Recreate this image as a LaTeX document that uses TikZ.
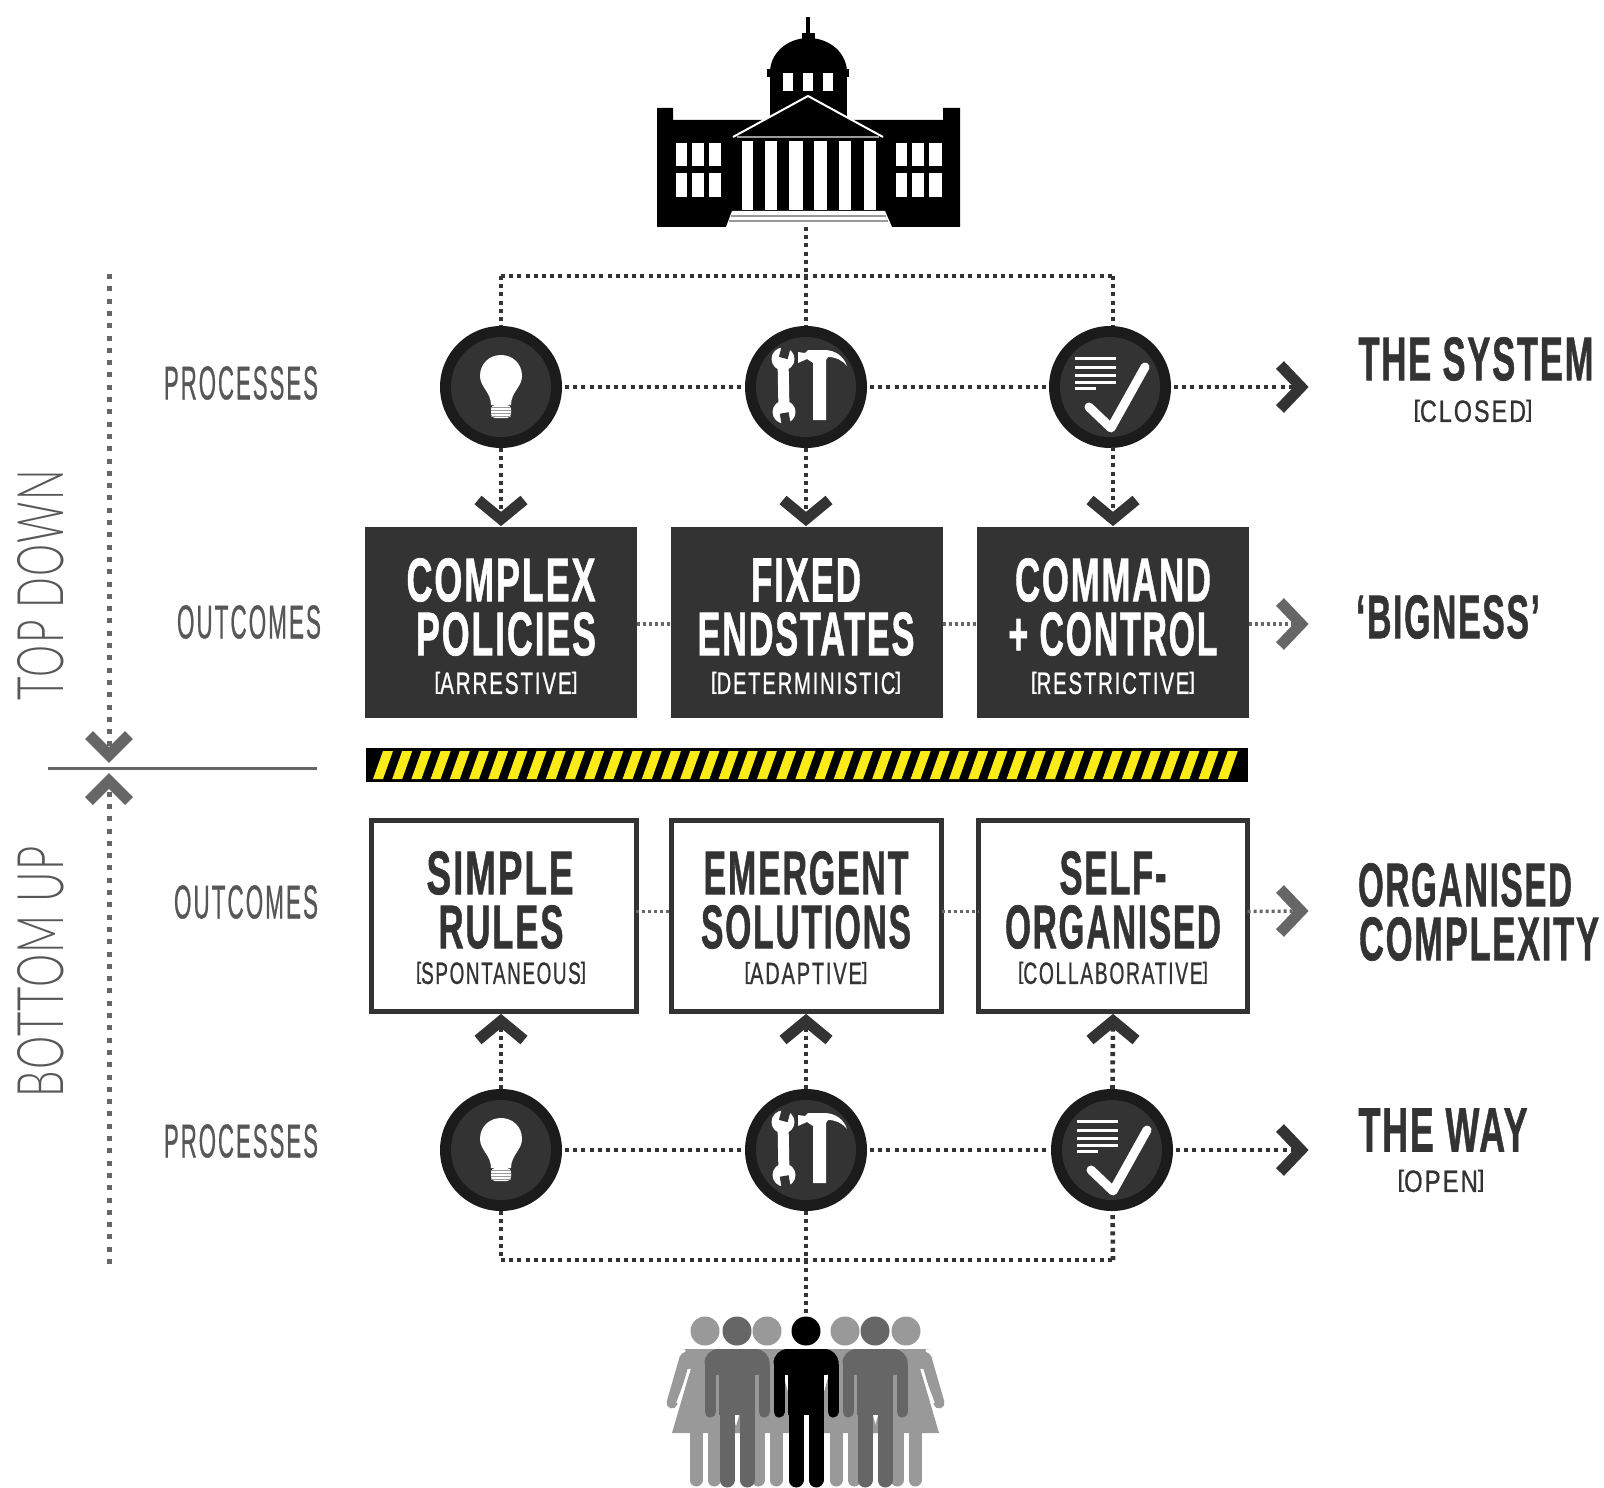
\documentclass[tikz,border=0pt]{standalone}
\usepackage{fontspec}
\usepackage{graphicx}
\setmainfont{Liberation Sans}
\newfontfamily\thinf[LetterSpace=3]{Lato Light}
\newfontfamily\heavyf[LetterSpace=5,FakeBold=1.2]{Liberation Sans Bold}
\newfontfamily\medf[LetterSpace=9,FakeBold=1]{Liberation Sans}
\definecolor{ink}{HTML}{333333}
\definecolor{rim}{HTML}{1B1B1B}
\definecolor{midg}{HTML}{666666}
\definecolor{ligg}{HTML}{999999}
\definecolor{haz}{HTML}{FBEC18}
\newcommand\fitb[3]{\resizebox{\dimexpr #1pt/2\relax}{\dimexpr #2pt/2\relax}{\heavyf #3}}
\newcommand\fitr[3]{\resizebox{\dimexpr #1pt/2\relax}{\dimexpr #2pt/2\relax}{\medf #3}}
\newcommand\fitt[3]{\resizebox{\dimexpr #1pt/2\relax}{\dimexpr #2pt/2\relax}{\thinf #3}}
\newcommand\lbk{\raisebox{0.16em}{\scalebox{1}[0.766]{[}}}
\newcommand\rbk{\raisebox{0.16em}{\scalebox{1}[0.766]{]}}}
% chevron: x, y of centre-line tip, angle, colour, half width, depth, stroke (pt)
\newcommand\chevron[7]{\draw[#4,line width=#7,line join=miter,miter limit=10] (#1,#2) ++(0,0) [shift={(#1,#2)},rotate=#3] (-#5,-#6) -- (0,0) -- (#5,-#6);}
\newcommand\discicon[2]{\node[disc] (#1) at #2 {}; \fill[ink] #2 circle (50);}
\newcommand\bulbicon[1]{\begin{scope}[shift={#1}]
 \fill[white] (-10,18) .. controls (-10,5) and (-21,0) .. (-21,-11) .. controls (-21,-24) and (-11,-32) .. (0,-32) .. controls (11,-32) and (21,-24) .. (21,-11) .. controls (21,0) and (10,5) .. (10,18) -- cycle;
 \fill[white,rounded corners=2] (-10,18) rectangle (10,31);
 \foreach \q in {20,23,26,29}{\draw[ligg,line width=0.5pt] (-10,\q) -- (10,\q);}
\end{scope}}
\newcommand\toolsicon[1]{\begin{scope}[shift={#1}]
 \draw[white,line width=5.5pt] (-23,-28) -- (-22,25);
 \fill[white] (-23,-28) circle (11.5);
 \fill[white] (-22,25) circle (11.5);
 \fill[ink,rotate around={-15:(-23,-28)}] (-27.5,-44) rectangle (-18.5,-29);
 \fill[ink,rotate around={10:(-22,25)}] (-26.5,26) rectangle (-17.5,41);
 \fill[white] (-8,-35) -- (-1,-34) -- (2,-37) -- (18,-37) .. controls (30,-37) and (38,-30) .. (41,-21) .. controls (36,-27) and (30,-30) .. (22,-30) -- (20,-27) -- (20,33) -- (7,33) -- (7,-24) -- (1,-28) -- (-8,-24) -- cycle;
\end{scope}}
\newcommand\checkicon[1]{\begin{scope}[shift={#1}]
 \foreach \q in {-29,-20,-12,-5}{\fill[white] (-35,\q-1.5) rectangle (6,\q+1.5);}
 \fill[white] (-35,-0.5) rectangle (-14,2.5);
 \draw[white,line width=4.5pt,line cap=round,line join=round] (-21,20) -- (1,41) -- (35,-20);
\end{scope}}
\newcommand\manfig[2]{\begin{scope}[shift={(#1,0)}]
 \fill[#2] (0,1331) circle (14.5);
 \fill[#2,rounded corners=7pt] (-32.5,1375) -- (-32.5,1349) -- (32.5,1349) -- (32.5,1375) -- cycle;
 \fill[#2] (-18,1360) rectangle (18,1415);
 \draw[#2,line width=5.5pt,line cap=round] (-27,1365) -- (-27,1412);
 \draw[#2,line width=5.5pt,line cap=round] (27,1365) -- (27,1412);
 \draw[#2,line width=7.5pt,line cap=round] (-10,1410) -- (-10,1480);
 \draw[#2,line width=7.5pt,line cap=round] (10,1410) -- (10,1480);
\end{scope}}
\newcommand\womanfig[2]{\begin{scope}[shift={(#1,0)}]
 \fill[ligg] (0,1331) circle (14.5);
 \draw[ligg,line width=5.5pt,line cap=round] (#2*20,1358) -- (#2*33,1403);
 \fill[ligg] (#2*26,1349) -- (-20,1349) -- (-14,1368) -- (-33,1433) -- (33,1433) -- (14,1368) -- (20,1349) -- cycle;
 \fill[ligg,rounded corners=7pt] (-26,1370) -- (-26,1349) -- (26,1349) -- (26,1370) -- cycle;
 \draw[white,line width=0.8pt] (#2*15,1369) -- (#2*28,1403);
 \draw[ligg,line width=6.5pt,line cap=round] (-9,1430) -- (-9,1480);
 \draw[ligg,line width=6.5pt,line cap=round] (9,1430) -- (9,1480);
\end{scope}}
\tikzset{
 txt/.style={inner sep=0pt,outer sep=0pt,anchor=center},
 ontop/.style={txt,text=white},
 dark/.style={txt,text=ink},
 greyt/.style={txt,text=midg!85!black},
 disc/.style={circle,fill=rim,minimum size=61pt,inner sep=0pt,outer sep=0pt},
 darkbox/.style={rectangle,fill=ink,minimum width=136pt,minimum height=95.5pt,inner sep=0pt,outer sep=0pt},
 whitebox/.style={rectangle,draw=ink,line width=2.5pt,fill=white,minimum height=95.5pt,inner sep=0pt,outer sep=0pt},
 dots/.style={draw=ink,line width=2.3pt,dash pattern=on 2pt off 2.1pt},
 sdots/.style={draw=midg,line width=1.7pt,dash pattern=on 1.5pt off 1.5pt},
 sidedots/.style={draw=midg,line width=2.5pt,dash pattern=on 2.5pt off 3.65pt},
}
\begin{document}
\begin{tikzpicture}[x=0.5pt,y=-0.5pt]
\useasboundingbox (0,0) rectangle (1604,1487);
\clip (0,0) rectangle (1604,1487);
% ---- building
\begin{scope}
 \fill[black] (806,17) rectangle (810,40);
 \fill[black] (802,33) rectangle (815,45);
 \fill[black] (770,70) .. controls (772,50) and (790,38) .. (808.5,38) .. controls (827,38) and (845,50) .. (847,70) -- cycle;
 \fill[black] (767,69) rectangle (849,77);
 \fill[black] (770,75) rectangle (847,125);
 \fill[black] (657,108) -- (673,108) -- (673,120) -- (943,120) -- (943,108) -- (960,108) -- (960,227) -- (657,227) -- cycle;
 \foreach \a/\b in {676/687,692/704,709/721,896/907,912/924,929/942}{
  \fill[white] (\a,143) rectangle (\b,166);
  \fill[white] (\a,173) rectangle (\b,197);}
 \foreach \a/\b in {783/793,803/813,823/833}{\fill[white] (\a,73) rectangle (\b,91);}
 \fill[black] (733,137) -- (808,96) -- (883,137) -- cycle;
 \draw[white,line width=1pt,line join=miter] (733,137) -- (808,96) -- (883,137);
 \draw[ligg,line width=1.2pt] (737,137) -- (879,137);
 \foreach \a/\b in {742/753,765/777,789/803,814/827,839/851,864/876}{\fill[white] (\a,141) rectangle (\b,210);}
 \fill[white] (732,211) -- (885,211) -- (892,227) -- (726,227) -- cycle;
 \draw[ligg,line width=1pt] (731,216) -- (886,216);
 \draw[ligg,line width=1pt] (729,221) -- (888,221);
\end{scope}
\coordinate (bld) at (806,227);
\coordinate (topL) at (501,276);
\coordinate (topM) at (806,276);
\coordinate (topR) at (1113,276);
\coordinate (lowL) at (501,1260);
\coordinate (lowM) at (806,1260);
\coordinate (lowR) at (1113,1260);
\coordinate (crowd) at (806,1318);
% ---- upper circles
\discicon{c1}{(501,387)}
\discicon{c2}{(806,387)}
\discicon{c3}{(1110,387)}
\bulbicon{(501,387)}
\toolsicon{(806,387)}
\checkicon{(1110,387)}
% ---- lower circles
\discicon{d1}{(501,1150)}
\discicon{d2}{(806,1150)}
\discicon{d3}{(1112,1150)}
\bulbicon{(501,1150)}
\toolsicon{(806,1150)}
\checkicon{(1112,1150)}
% ---- boxes
\node[darkbox] (b1) at (500.5,622) {};
\node[darkbox] (b2) at (806.5,622) {};
\node[darkbox] (b3) at (1112.5,622) {};
\node[whitebox,minimum width=132.5pt] (w1) at (503.5,915.5) {};
\node[whitebox,minimum width=135pt] (w2) at (806.5,915.5) {};
\node[whitebox,minimum width=134.5pt] (w3) at (1113,915.5) {};
% ---- coordinates at chevrons
\coordinate (a1) at (501,519);
\coordinate (a2) at (806,519);
\coordinate (a3) at (1113,519);
\coordinate (u1) at (501,1022);
\coordinate (u2) at (806,1022);
\coordinate (u3) at (1113,1022);
\coordinate (rt1) at (1301,387);
\coordinate (rt2) at (1301,624);
\coordinate (rt3) at (1301,911);
\coordinate (rt4) at (1301,1150);
\coordinate (sd1) at (109,274);
\coordinate (sd2) at (109,752);
\coordinate (su1) at (109,1264);
\coordinate (su2) at (109,786);
\coordinate (ruleL) at (48,768);
\coordinate (ruleR) at (317,768);
% ---- dotted connectors
\draw[dots] (bld) -- (c2);
\draw[dots] (topL) -- (topR);
\draw[dots] (topL) -- (c1);
\draw[dots] (topR) -- (topR |- c3.north);
\draw[dots,shorten <=1.5pt,shorten >=1pt] (c1) -- (c2);
\draw[dots,shorten <=1.5pt,shorten >=1pt] (c2) -- (c3);
\draw[dots,shorten <=1.5pt] (c3) -- (rt1);
\draw[dots] (c1) -- (a1);
\draw[dots] (c2) -- (a2);
\draw[dots] (1113,447) -- (a3);
\draw[dots,shorten <=1.5pt,shorten >=1pt] (d1) -- (d2);
\draw[dots,shorten <=1.5pt,shorten >=1pt] (d2) -- (d3);
\draw[dots,shorten <=1.5pt] (d3) -- (rt4);
\draw[dots] (d1) -- (u1);
\draw[dots] (d2) -- (u2);
\draw[dots] (d3) -- (u3);
\draw[dots] (d1) -- (lowL);
\draw[dots] (lowL) -- (lowR);
\draw[dots] (lowR) -- (d3);
\draw[dots] (d2) -- (crowd);
\draw[sdots] ([yshift=-1pt]b1.east) -- ([yshift=-1pt]b2.west);
\draw[sdots] ([yshift=-1pt]b2.east) -- ([yshift=-1pt]b3.west);
\draw[sdots] ([yshift=-1pt]b3.east) -- (rt2);
\draw[sdots] ([yshift=2pt]w1.east) -- ([yshift=2pt]w2.west);
\draw[sdots] ([yshift=2pt]w2.east) -- ([yshift=2pt]w3.west);
\draw[sdots] ([yshift=2pt]w3.east) -- (rt3);
\draw[sidedots] (sd1) -- (sd2);
\draw[sidedots] (su1) -- (su2);
\draw[draw=midg,line width=1.5pt] (ruleL) -- (ruleR);
% ---- chevrons
\chevron{501}{519}{0}{ink}{23}{19}{5.5pt}
\chevron{806}{519}{0}{ink}{23}{19}{5.5pt}
\chevron{1113}{519}{0}{ink}{23}{19}{5.5pt}
\chevron{501}{1021}{180}{ink}{23}{19}{5.5pt}
\chevron{806}{1021}{180}{ink}{23}{19}{5.5pt}
\chevron{1113}{1021}{180}{ink}{23}{19}{5.5pt}
\chevron{1301}{387}{90}{ink}{22}{21}{5.5pt}
\chevron{1301}{624}{90}{midg}{22}{21}{5.5pt}
\chevron{1301}{911}{90}{midg}{22}{21}{5.5pt}
\chevron{1301}{1150}{90}{ink}{22}{21}{5.5pt}
\chevron{109}{755}{0}{midg}{20}{20}{5.5pt}
\chevron{109}{781}{180}{midg}{20}{20}{5.5pt}
% ---- hazard bar
\fill[black] (366,748) rectangle (1248,782);
\foreach \i in {0,...,44}{
 \pgfmathsetmacro{\xx}{373+19.2*\i}
 \fill[haz] (\xx,779) -- (\xx+10,779) -- (\xx+20,751) -- (\xx+10,751) -- cycle;
}
% ---- crowd
\womanfig{705}{-1}
\womanfig{906}{1}
\womanfig{767}{-1}
\womanfig{845}{1}
\manfig{737}{midg}
\manfig{875}{midg}
\manfig{806}{black}
% ---- left labels
\node[greyt,rotate=90] (ltd) at (41,585) {\fitt{230}{46}{TOP DOWN}};
\node[greyt,rotate=90] (lbu) at (41,972) {\fitt{251}{46}{BOTTOM UP}};
\node[greyt] (lp1) at (241,383) {\fitr{154}{33}{PROCESSES}};
\node[greyt] (lo1) at (249,622) {\fitr{144}{33}{OUTCOMES}};
\node[greyt] (lo2) at (246,902) {\fitr{144}{33}{OUTCOMES}};
\node[greyt] (lp2) at (241,1141) {\fitr{154}{33}{PROCESSES}};
% ---- dark box texts
\node[ontop] (t1a) at (501,580) {\fitb{189}{43}{COMPLEX}};
\node[ontop] (t1b) at (506,634) {\fitb{180}{43}{POLICIES}};
\node[ontop] (t1c) at (506,683) {\fitr{143}{22}{\lbk ARRESTIVE\rbk}};
\node[ontop] (t2a) at (806,580) {\fitb{110}{43}{FIXED}};
\node[ontop] (t2b) at (806,634) {\fitb{217}{43}{ENDSTATES}};
\node[ontop] (t2c) at (806,683) {\fitr{190}{22}{\lbk DETERMINISTIC\rbk}};
\node[ontop] (t3a) at (1113,580) {\fitb{196}{43}{COMMAND}};
\node[ontop] (t3b) at (1113,634) {\fitb{209}{43}{+ CONTROL}};
\node[ontop] (t3c) at (1113,683) {\fitr{164}{22}{\lbk RESTRICTIVE\rbk}};
% ---- white box texts
\node[dark] (s1a) at (500,873) {\fitb{147}{43}{SIMPLE}};
\node[dark] (s1b) at (501,927) {\fitb{125}{43}{RULES}};
\node[dark] (s1c) at (501,973) {\fitr{170}{22}{\lbk SPONTANEOUS\rbk}};
\node[dark] (s2a) at (806,873) {\fitb{205}{43}{EMERGENT}};
\node[dark] (s2b) at (806,927) {\fitb{210}{43}{SOLUTIONS}};
\node[dark] (s2c) at (806,973) {\fitr{123}{22}{\lbk ADAPTIVE\rbk}};
\node[dark] (s3a) at (1113,873) {\fitb{107}{43}{SELF-}};
\node[dark] (s3b) at (1113,927) {\fitb{216}{43}{ORGANISED}};
\node[dark] (s3c) at (1113,973) {\fitr{190}{22}{\lbk COLLABORATIVE\rbk}};
% ---- right texts
\node[dark] (r1) at (1476,359) {\fitb{235}{43}{THE SYSTEM}};
\node[dark] (r1b) at (1473,411) {\fitr{119}{22}{\lbk CLOSED\rbk}};
\node[dark] (r2) at (1448,617) {\fitb{184}{43}{‘BIGNESS’}};
\node[dark] (r3) at (1465,885) {\fitb{214}{43}{ORGANISED}};
\node[dark] (r3b) at (1479,939) {\fitb{240}{43}{COMPLEXITY}};
\node[dark] (r4) at (1443,1130) {\fitb{169}{43}{THE WAY}};
\node[dark] (r4b) at (1441,1181) {\fitr{87}{22}{\lbk OPEN\rbk}};
\end{tikzpicture}
\end{document}
